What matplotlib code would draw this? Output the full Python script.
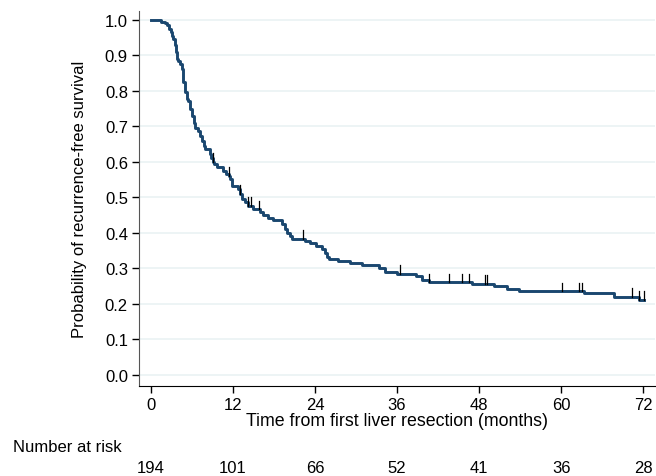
import matplotlib
matplotlib.use("Agg")
import matplotlib.pyplot as plt

plt.rcParams['font.family'] = ['Liberation Sans', 'DejaVu Sans']

# step times (months) and survival after each step
times = [0, 1.46, 2.04, 2.34, 2.63, 2.92, 3.07, 3.21, 3.5, 3.65, 3.8, 3.94, 4.23,
         4.53, 4.67, 4.96, 5.26, 5.4, 5.69, 5.99, 6.28, 6.42, 6.86, 7.15, 7.45,
         7.74, 7.88, 8.6, 8.83, 9.05, 9.2, 9.64, 10.5, 10.9, 11.39, 11.6, 11.8,
         12.7, 13.0, 13.3, 13.7, 14.2, 14.9, 15.9, 16.35, 17.1, 17.8, 19.1,
         19.6, 19.85, 20.3, 20.7, 22.5, 23.2, 24.2, 25.0, 25.4, 25.8, 26.1,
         27.3, 29.05, 30.9, 33.4, 34.2, 36.06, 38.8, 39.7, 40.7, 46.9, 50.2,
         52.1, 53.9, 63.4, 67.7, 71.4]
surv = [1.0, 0.995, 0.99, 0.984, 0.975, 0.966, 0.955, 0.945, 0.928, 0.91, 0.89,
        0.885, 0.876, 0.862, 0.825, 0.797, 0.777, 0.77, 0.75, 0.73, 0.71, 0.696,
        0.687, 0.672, 0.66, 0.645, 0.637, 0.623, 0.61, 0.6, 0.594, 0.586, 0.575,
        0.567, 0.56, 0.553, 0.532, 0.524, 0.51, 0.496, 0.486, 0.476, 0.467,
        0.458, 0.45, 0.441, 0.435, 0.425, 0.412, 0.40, 0.39, 0.383, 0.378,
        0.372, 0.364, 0.355, 0.344, 0.333, 0.327, 0.322, 0.316, 0.308, 0.30,
        0.291, 0.284, 0.277, 0.268, 0.261, 0.256, 0.25, 0.242, 0.235, 0.23,
        0.22, 0.211]
t_end = 72.1

# censored observations
cens_t = [9.05, 11.4, 13.0, 14.2, 14.6, 15.8, 22.2, 36.4, 40.7, 43.6, 45.5,
          46.6, 48.8, 49.1, 60.1, 62.6, 63.1, 70.4, 71.4, 72.1]

risk_t = [0, 12, 24, 36, 48, 60, 72]
risk_n = [194, 101, 66, 52, 41, 36, 28]


def s_at(t):
    val = surv[0]
    for tt, ss in zip(times, surv):
        if tt <= t:
            val = ss
    return val


fig = plt.figure(figsize=(6.56, 4.77), dpi=100)
ax = fig.add_axes([0.212, 0.189, 0.786, 0.786])

navy = '#1a476f'
ax.step(times + [t_end], surv + [surv[-1]], where='post', color=navy, lw=2.1, zorder=3)
for c in cens_t:
    s = s_at(c)
    ax.plot([c, c], [s, s + 0.024], color='black', lw=0.9, zorder=4)

ax.set_xlim(-1.75, 73.7)
ax.set_ylim(-0.031, 1.025)
ax.set_xticks(risk_t)
ax.set_yticks([i / 10 for i in range(11)])
ax.set_yticklabels(['%.1f' % (i / 10) for i in range(11)])
ax.yaxis.grid(True, color='#eaf2f3', lw=1.2, zorder=0)
ax.set_axisbelow(True)
for sp in ['top', 'right']:
    ax.spines[sp].set_visible(False)
ax.spines['left'].set_color('#555555')
ax.tick_params(axis='both', labelsize=12, length=5, width=1, direction='out', pad=3)
ax.set_xlabel('Time from first liver resection (months)', fontsize=12.8, labelpad=0)
ax.set_ylabel('Probability of recurrence-free survival', fontsize=12, labelpad=13)

fig.text(13 / 656, 1 - 448 / 477, 'Number at risk', fontsize=12, va='center', ha='left')
for t, n in zip(risk_t, risk_n):
    x = ax.transData.transform((t, 0))[0] / fig.bbox.width
    fig.text(x, 1 - 469 / 477, str(n), fontsize=12, va='center', ha='center')

fig.savefig('out.png', dpi=100)
